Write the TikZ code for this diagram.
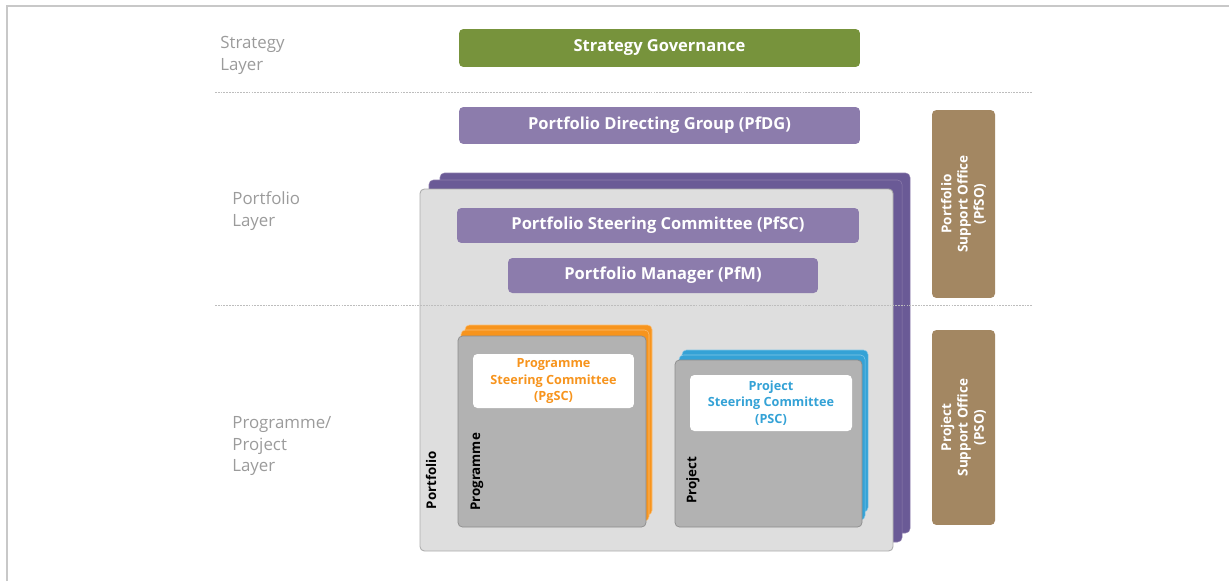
\documentclass[tikz,border=0pt]{standalone}
\usepackage{fontspec}
\setmainfont{Open Sans}
\usepackage{tikz}
\usetikzlibrary{positioning}

\definecolor{framegray}{RGB}{200,200,200}
\definecolor{layergray}{RGB}{155,155,155}
\definecolor{stratgreen}{RGB}{119,147,60}
\definecolor{pflilac}{RGB}{140,124,172}
\definecolor{pfdark}{RGB}{106,90,150}
\definecolor{pfgray}{RGB}{222,222,222}
\definecolor{pfedge}{RGB}{172,172,172}
\definecolor{pggray}{RGB}{178,178,178}
\definecolor{pgedge}{RGB}{140,140,140}
\definecolor{pgorange}{RGB}{247,148,29}
\definecolor{pjblue}{RGB}{52,162,214}
\definecolor{officebrown}{RGB}{163,135,98}

\begin{document}
\begin{tikzpicture}[x=0.02cm, y=-0.02cm,
    layertext/.style={text=layergray, align=left, anchor=west, inner sep=0pt,
        font=\fontsize{9.6}{12.5}\selectfont},
    rolebox/.style={rounded corners=2.5pt, text=white, inner sep=0pt,
        font=\bfseries\fontsize{9.4}{10}\selectfont},
    committee/.style={fill=white, rounded corners=2.5pt, inner sep=0pt,
        align=center, font=\bfseries\fontsize{7.2}{9.5}\selectfont},
    office/.style={fill=officebrown, rounded corners=2.5pt, text=white,
        inner sep=0pt, rotate=90, align=center,
        font=\bfseries\fontsize{7.7}{9.3}\selectfont},
    sidelabel/.style={rotate=90, inner sep=0pt,
        font=\bfseries\fontsize{7.6}{9}\selectfont},
    separator/.style={draw=framegray!120, line width=0.45pt,
        dash pattern=on 1pt off 0.6pt}]
    \useasboundingbox (0,0) rectangle (1229,581);

    % frame
    \coordinate (FL) at (7,581);
    \coordinate (FC) at (7,6);
    \coordinate (FR) at (1229,6);
    \draw[framegray, line width=0.9pt] (FL) -- (FC) -- (FR);

    % layer names
    \node[layertext] (strat) at (220,55) {Strategy\\Layer};
    \node[layertext] (port) at (232,211) {Portfolio\\Layer};
    \node[layertext] (prog) at (232,446) {Programme/\\Project\\Layer};

    % portfolio stack
    \draw[fill=pfdark, draw=pflilac, line width=0.3pt, rounded corners=2.5pt]
        (440,173) rectangle (910,533);
    \draw[fill=pfdark, draw=pflilac, line width=0.3pt, rounded corners=2.5pt]
        (429,180) rectangle (902,542);
    \draw[fill=pfgray, draw=pfedge, line width=0.5pt, rounded corners=2.5pt]
        (420,189) rectangle (893,551);

    % programme stack
    \draw[fill=pgorange, draw=pgorange!60, line width=0.3pt, rounded corners=2.5pt]
        (465,325) rectangle (652,515);
    \draw[fill=pgorange, draw=pgorange!60, line width=0.3pt, rounded corners=2.5pt]
        (461,330) rectangle (649,521);
    \draw[fill=pggray, draw=pgedge, line width=0.4pt, rounded corners=2.5pt]
        (458,336) rectangle (646,527);

    % project stack
    \draw[fill=pjblue, draw=pjblue!60, line width=0.3pt, rounded corners=2.5pt]
        (682,350) rectangle (868,512);
    \draw[fill=pjblue, draw=pjblue!60, line width=0.3pt, rounded corners=2.5pt]
        (679,355) rectangle (865,520);
    \draw[fill=pggray, draw=pgedge, line width=0.4pt, rounded corners=2.5pt]
        (675,360) rectangle (862,527);

    % separators
    \draw[separator] (215,92) -- (1032,92);
    \draw[separator] (215,305) -- (1032,305);

    % boards and managers
    \node[rolebox, fill=stratgreen, minimum width=8.02cm, minimum height=0.76cm]
        (SG) at (659.5,48) {Strategy Governance};
    \node[rolebox, fill=pflilac, minimum width=8.02cm, minimum height=0.74cm]
        (PfDG) at (659.5,125.5) {Portfolio Directing Group (PfDG)};
    \node[rolebox, fill=pflilac, minimum width=8.04cm, minimum height=0.70cm]
        (PfSC) at (658,225.5) {Portfolio Steering Committee (PfSC)};
    \node[rolebox, fill=pflilac, minimum width=6.2cm, minimum height=0.70cm]
        (PfM) at (663,275.5) {Portfolio Manager (PfM)};

    \node[committee, text=pgorange, minimum width=3.22cm, minimum height=1.08cm]
        (PgSC) at (553.5,381) {Programme\\Steering Committee\\(PgSC)};
    \node[committee, text=pjblue, minimum width=3.24cm, minimum height=1.12cm]
        (PSC) at (771,403) {Project\\Steering Committee\\(PSC)};

    \node[sidelabel] (portlbl) at (431,480) {Portfolio};
    \node[sidelabel] (proglbl) at (477,472) {Programme};
    \node[sidelabel] (projlbl) at (693,480) {Project};

    % support offices
    \node[office, minimum width=3.76cm, minimum height=1.26cm]
        (PfSO) at (963.5,204) {Portfolio\\Support Office\\(PfSO)};
    \node[office, minimum width=3.90cm, minimum height=1.26cm]
        (PSO) at (963.5,427.5) {Project\\Support Office\\(PSO)};
\end{tikzpicture}
\end{document}
